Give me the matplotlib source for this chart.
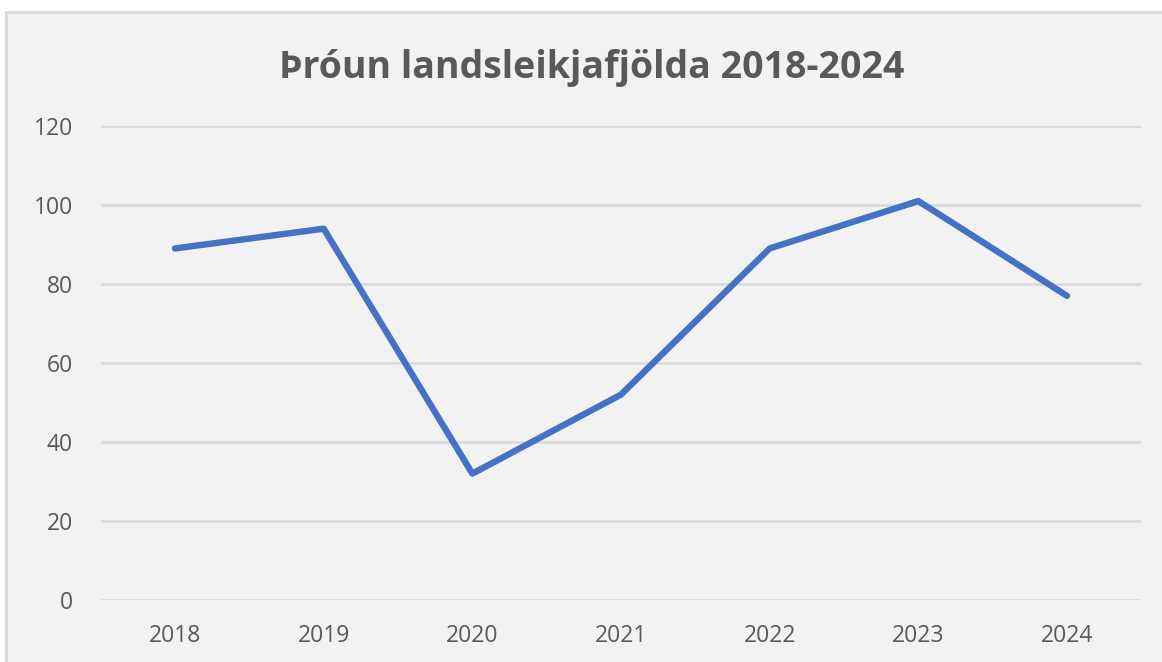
import matplotlib.pyplot as plt
from matplotlib.patches import Rectangle

years = ["2018", "2019", "2020", "2021", "2022", "2023", "2024"]
games = [89, 94, 32, 52, 89, 101, 77]
y_ticks = [0, 20, 40, 60, 80, 100, 120]

W, H = 1162, 662
fig = plt.figure(figsize=(W / 100, H / 100), dpi=100, facecolor="white")

# chart frame (screenshot of an Excel chart)
fig.patches.append(Rectangle((6 / W, -0.01), 1.02, (H - 12) / H + 0.01,
                             transform=fig.transFigure, facecolor="#f2f2f2",
                             edgecolor="#d9d9d9", linewidth=2, zorder=-5))

ax = fig.add_axes([100.7 / W, (H - 600) / H, 1040.6 / W, 474 / H])
ax.set_zorder(2)
ax.set_facecolor("none")
x = list(range(len(years)))
ax.plot(x, games, color="#4472c4", linewidth=4.6, solid_capstyle="round",
        solid_joinstyle="round", zorder=3)

ax.set_xlim(-0.5, len(years) - 0.5)
ax.set_ylim(0, 120)
ax.set_yticks(y_ticks)
ax.set_xticks(x)
ax.set_xticklabels(years)
ax.grid(axis="y", color="#d9d9d9", linewidth=1.8)
ax.set_axisbelow(True)
for s in ax.spines.values():
    s.set_visible(False)
ax.tick_params(length=0, labelcolor="#595959", labelsize=16.5)
ax.tick_params(axis="y", pad=20)
ax.tick_params(axis="x", pad=17)
for lbl in ax.get_xticklabels() + ax.get_yticklabels():
    lbl.set_family("Open Sans")

fig.text(592 / W, 1 - 68 / H, "Þróun landsleikjafjölda 2018-2024", ha="center",
         va="center", fontsize=27, fontweight="bold", color="#595959",
         family="Open Sans", zorder=3)

fig.savefig("out.png", dpi=100, facecolor="white")
